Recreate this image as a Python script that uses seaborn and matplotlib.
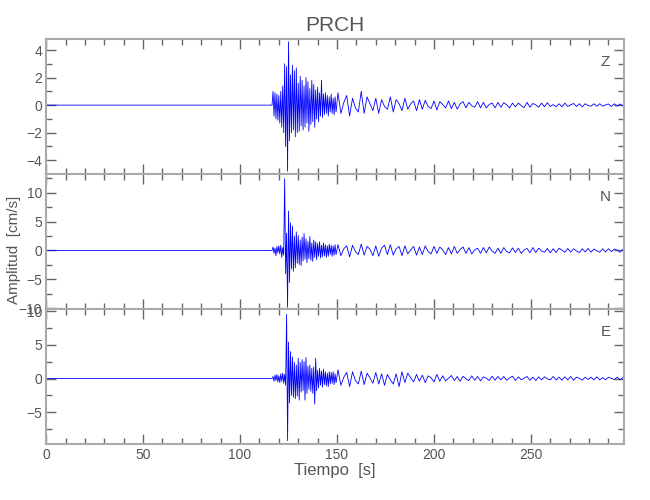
import numpy as np
import pandas as pd
import seaborn as sns
import matplotlib.pyplot as plt
from matplotlib.ticker import MultipleLocator

# station / components
station = "PRCH"
components = ["Z", "N", "E"]

onset_time = 116.5
strong_step = 0.5
coda_start = 150.5
coda_step = 1.5
end_time = 298.0

# strong motion part, cm/s
z_strong = [0.0, 1.0, -0.8, 0.9, -1.0, 0.8, -1.1, 0.7, -1.3, 1.0,
            -1.6, 1.4, -2.0, 3.0, -3.0, 2.8, -4.8, 4.6, -2.6, 2.2,
            -2.0, 2.9, -1.8, 2.5, -2.3, 2.7, -2.0, 1.6, -1.9, 2.1,
            -1.5, 1.8, -1.8, 1.4, -1.6, 2.0, -1.3, 1.7, -1.9, 1.2,
            -1.4, 1.8, -1.2, 1.5, -1.6, 1.1, -1.0, 1.3, -1.2, 0.9,
            -0.8, 1.8, -0.9, 0.8, -0.7, 0.9, -0.6, 0.7, -0.8, 0.6,
            -0.5, 0.8, -0.6, 0.5, -0.7, 0.6, -0.5]
n_strong = [0.0, 0.6, -0.5, 0.4, -0.9, 0.7, -0.4, 0.8, -0.6, 0.9,
            -1.2, 0.5, -0.8, 12.4, -4.0, 3.0, -9.8, 6.8, -5.5, 4.8,
            -3.2, 4.2, -3.6, 2.5, -3.0, 3.2, -2.2, 2.6, -2.4, 1.8,
            -2.6, 2.3, -1.8, 2.9, -1.5, 2.0, -2.1, 1.6, -1.4, 2.4,
            -1.7, 1.3, -1.9, 1.8, -1.2, 1.5, -1.6, 1.2, -1.0, 1.5,
            -1.3, 0.9, -1.1, 1.3, -0.9, 1.0, -1.2, 0.8, -1.0, 1.1,
            -0.7, 0.9, -1.0, 0.8, -0.8, 1.0, -0.7]
e_strong = [0.0, 0.3, -0.4, 0.5, -0.3, 0.6, -0.5, 0.4, -0.6, 0.7,
            -0.4, 0.8, -0.7, 0.6, -1.0, 9.5, -9.2, 5.4, -3.6, 4.0,
            -2.5, 3.2, -2.8, 2.4, -3.0, 2.0, -2.6, 3.0, -3.2, 2.4,
            -2.0, 2.8, -1.8, 2.5, -3.2, 3.1, -2.2, 1.8, -1.6, 2.0,
            -1.9, 1.5, -2.2, 1.7, -3.8, 3.0, -1.8, 1.2, -1.4, 1.5,
            -1.0, 1.1, -1.3, 1.4, -0.9, 1.0, -1.1, 0.8, -1.2, 1.0,
            -0.8, 0.9, -0.7, 1.0, -0.9, 0.7, -0.6]

# coda part, cm/s
z_coda = [0.9, -0.6, 0.2, 0.7, -0.8, 0.5, -0.2, -0.5, 1.0, -0.6,
          0.6, 0.1, -0.4, 0.5, -0.6, 0.4, -0.1, -0.3, 0.6, -0.5,
          0.4, 0.1, -0.4, 0.5, -0.3, 0.1, 0.3, -0.4, 0.4, -0.3,
          0.35, -0.1, -0.25, 0.3, -0.35, 0.25, 0.05, -0.2, 0.3, -0.25,
          0.2, -0.3, 0.1, 0.25, -0.2, 0.2, -0.05, -0.15, 0.25, -0.2,
          0.2, -0.2, 0.05, 0.15, -0.2, 0.2, -0.15, 0.18, 0.02, -0.2,
          0.15, -0.12, 0.15, -0.05, -0.18, 0.2, -0.15, 0.12, 0.02, -0.15,
          0.15, -0.12, 0.18, -0.1, 0.04, -0.12, 0.1, -0.12, 0.15, -0.1,
          0.02, 0.12, -0.1, 0.1, -0.12, 0.1, -0.03, -0.08, 0.1, -0.08,
          0.1, -0.08, 0.02, 0.08, -0.1, 0.1, -0.07, 0.08, -0.06]
n_coda = [1.0, -0.9, 0.3, 0.8, -1.1, 0.9, -0.2, -0.7, 1.1, -0.8,
          0.7, 0.2, -0.9, 0.8, -1.0, 0.4, 0.9, -0.7, 1.0, -0.8,
          0.3, 0.7, -0.9, 0.8, -0.6, 0.1, 0.7, -0.8, 0.6, -0.7,
          0.8, -0.2, -0.6, 0.7, -0.5, 0.6, 0.1, -0.7, 0.5, -0.6,
          0.7, -0.5, 0.2, 0.6, -0.5, 0.5, -0.6, 0.1, 0.4, -0.5,
          0.5, -0.4, 0.6, -0.1, -0.5, 0.4, -0.5, 0.5, -0.2, -0.4,
          0.45, -0.35, 0.4, -0.5, 0.1, 0.35, -0.4, 0.5, -0.35, 0.4,
          -0.1, -0.3, 0.35, -0.4, 0.3, -0.35, 0.4, 0.05, -0.3, 0.35,
          -0.3, 0.3, -0.1, -0.35, 0.3, -0.25, 0.35, -0.3, 0.25, -0.05,
          -0.3, 0.3, -0.25, 0.3, -0.2, 0.25, 0.05, -0.3, 0.2]
e_coda = [1.3, -1.0, 0.2, 0.9, -1.2, 1.0, -0.3, -0.8, 1.1, -0.9,
          0.8, 0.1, -0.7, 0.9, -0.8, 0.7, -1.0, 0.6, -0.2, -0.8,
          0.7, -1.2, 1.0, -0.6, 0.8, 0.1, -0.5, 0.6, -0.4, 0.5,
          -0.6, 0.4, 0.1, -0.5, 0.6, -0.4, 0.4, -0.35, 0.05, 0.45,
          -0.3, 0.3, -0.4, 0.35, -0.05, -0.3, 0.4, -0.25, 0.3, -0.35,
          0.25, 0.05, -0.3, 0.35, -0.25, 0.3, -0.2, 0.3, -0.25, 0.1,
          0.35, -0.3, 0.25, -0.2, 0.05, 0.3, -0.25, 0.2, -0.3, 0.25,
          -0.2, 0.25, -0.05, -0.2, 0.3, -0.2, 0.2, -0.25, 0.25, -0.2,
          0.3, -0.25, 0.2, 0.02, -0.25, 0.2, -0.15, 0.2, -0.2, 0.25,
          -0.2, 0.15, -0.2, 0.2, 0.02, -0.15, 0.2, -0.2, 0.15]

# axis settings per component
y_limits = {"Z": (-5.0, 4.8), "N": (-10.1, 13.2), "E": (-9.7, 10.3)}
y_major = {"Z": 2, "N": 5, "E": 5}
y_minor = {"Z": 1, "N": 2.5, "E": 2.5}
x_limits = (0, 298)

strong = {"Z": z_strong, "N": n_strong, "E": e_strong}
coda = {"Z": z_coda, "N": n_coda, "E": e_coda}


def build_trace(comp):
    s = np.array(strong[comp])
    c = np.array(coda[comp])
    t_s = onset_time + strong_step * np.arange(len(s))
    t_c = coda_start + coda_step * np.arange(len(c))
    t = np.concatenate([[0.0], t_s, t_c, [end_time]])
    v = np.concatenate([[0.0], s, c, [0.0]])
    return pd.DataFrame({"t": t, "amp": v})


sns.set_style("ticks")
plt.rcParams['font.family'] = ['Liberation Sans', 'DejaVu Sans']
plt.rcParams['axes.unicode_minus'] = True

frame_col = '#aaaaaa'
tick_col = '#666666'
text_col = '#555555'

fig, axes = plt.subplots(3, 1, figsize=(6.5, 5), dpi=100, sharex=True)
fig.subplots_adjust(left=0.071, right=0.96, top=0.922, bottom=0.112, hspace=0)

for ax, comp in zip(axes, components):
    df = build_trace(comp)
    sns.lineplot(data=df, x="t", y="amp", ax=ax, color='#0000ff', lw=0.6,
                 estimator=None, sort=False)
    ax.set_xlim(*x_limits)
    ax.set_ylim(*y_limits[comp])
    ax.set_xlabel("")
    ax.set_ylabel("")
    ax.xaxis.set_major_locator(MultipleLocator(50))
    ax.xaxis.set_minor_locator(MultipleLocator(10))
    ax.yaxis.set_major_locator(MultipleLocator(y_major[comp]))
    ax.yaxis.set_minor_locator(MultipleLocator(y_minor[comp]))
    ax.tick_params(which='both', direction='in', top=True, right=True,
                   color=tick_col, labelcolor=text_col, labelsize=10, width=1, pad=3)
    ax.tick_params(which='major', length=7)
    ax.tick_params(which='minor', length=4)
    for sp in ax.spines.values():
        sp.set_visible(True)
        sp.set_color(frame_col)
        sp.set_linewidth(1.5)
    ax.text(0.968, 0.83, comp, transform=ax.transAxes, ha='center', va='center',
            fontsize=11, color=text_col)

axes[0].set_title(station, fontsize=15, color=text_col, pad=6)
fig.text(0.515, 0.058, "Tiempo  [s]", ha='center', va='center', fontsize=12, color=text_col)
fig.text(0.022, 0.5, "Amplitud  [cm/s]", ha='center', va='center', rotation=90,
         fontsize=11, color=text_col)

fig.savefig("out.png", dpi=100)
